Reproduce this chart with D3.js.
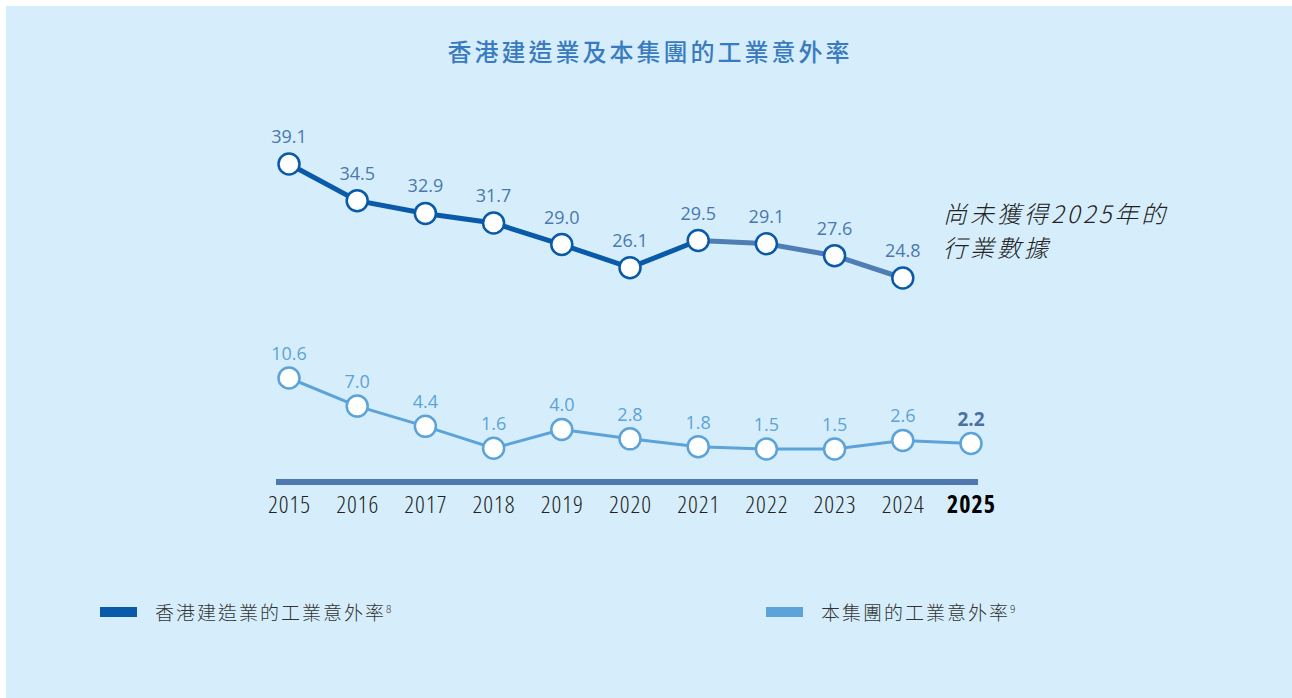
<!DOCTYPE html>
<html>
<head>
<meta charset="utf-8">
<script src="https://cdn.jsdelivr.net/npm/d3@7"></script>
<style>
  body { margin: 0; background: #fff; }
  svg { display: block; font-family: "Noto Sans CJK TC", "Noto Sans", sans-serif; }
</style>
</head>
<body>
<div id="okvir"></div>
<script>
// podaci
const godine = ["2015","2016","2017","2018","2019","2020","2021","2022","2023","2024","2025"]
const industrija = [39.1, 34.5, 32.9, 31.7, 29.0, 26.1, 29.5, 29.1, 27.6, 24.8]
const grupa = [10.6, 7.0, 4.4, 1.6, 4.0, 2.8, 1.8, 1.5, 1.5, 2.6, 2.2]
const naslovTekst = "香港建造業及本集團的工業意外率"
const napomena = ["尚未獲得2025年的", "行業數據"]
const legenda = [
  { ime: "香港建造業的工業意外率", sup: "8", boja: "#0a5aaa" },
  { ime: "本集團的工業意外率", sup: "9", boja: "#5ba3d9" },
]

const sirina = 1292, visina = 698

const svg = d3.select("#okvir").append("svg")
  .attr("width", sirina)
  .attr("height", visina)

svg.append("rect")
  .attr("x", 6).attr("y", 6)
  .attr("width", sirina - 6).attr("height", visina - 6)
  .attr("fill", "#d6eefb")

svg.append("text")
  .attr("x", 650).attr("y", 61)
  .attr("text-anchor", "middle")
  .attr("fill", "#3a7bc0")
  .attr("font-size", 24)
  .attr("font-weight", 500)
  .attr("letter-spacing", 3)
  .text(naslovTekst)

// skale
const x = d3.scalePoint().domain(godine).range([289, 971])
const yGore = d3.scaleLinear().domain([39.1, 24.8]).range([164, 278])
const yDolje = d3.scaleLinear().domain([10.6, 1.5]).range([378, 449])

// os
svg.append("rect")
  .attr("x", 276).attr("y", 479)
  .attr("width", 702).attr("height", 6)
  .attr("fill", "#4e79b0")

const zadnja = d => d === "2025"
svg.append("g").selectAll("text")
  .data(godine)
  .join("text")
    .attr("x", d => x(d))
    .attr("dx", 0.5)
    .attr("y", 513)
    .attr("text-anchor", "middle")
    .attr("font-family", "'Open Sans', sans-serif")
    .attr("font-size", 24)
    .attr("font-stretch", "condensed")
    .attr("letter-spacing", 1)
    .attr("font-weight", d => zadnja(d) ? 700 : 300)
    .attr("fill", d => zadnja(d) ? "#000" : "#222")
    .text(d => d)

// industrija: tamni dio do 2021, svjetliji nakon
const tocke = industrija.map((v, i) => ({ v, i }))
const lin = d3.line().x(d => x(godine[d.i])).y(d => yGore(d.v))
svg.append("path")
  .attr("d", lin(tocke.slice(6)))
  .attr("fill", "none").attr("stroke", "#4f7db5").attr("stroke-width", 5)
svg.append("path")
  .attr("d", lin(tocke.slice(0, 7)))
  .attr("fill", "none").attr("stroke", "#0a5aaa").attr("stroke-width", 5)

svg.append("g").selectAll("circle")
  .data(tocke)
  .join("circle")
    .attr("cx", d => x(godine[d.i]))
    .attr("cy", d => yGore(d.v))
    .attr("r", 10.5)
    .attr("fill", "#fff")
    .attr("stroke", "#0a5aaa")
    .attr("stroke-width", 2.5)

svg.append("g").selectAll("text")
  .data(tocke)
  .join("text")
    .attr("x", d => x(godine[d.i]))
    .attr("y", d => yGore(d.v) - 21)
    .attr("text-anchor", "middle")
    .attr("font-family", "'Open Sans', 'Noto Sans', sans-serif")
    .attr("font-size", 18)
    .attr("fill", "#4a78b0")
    .text(d => d.v.toFixed(1))

// grupa
const tockeG = grupa.map((v, i) => ({ v, i }))
const linG = d3.line().x(d => x(godine[d.i])).y(d => yDolje(d.v))
svg.append("path")
  .attr("d", linG(tockeG))
  .attr("fill", "none").attr("stroke", "#5ba3d9").attr("stroke-width", 3)

svg.append("g").selectAll("circle")
  .data(tockeG)
  .join("circle")
    .attr("cx", d => x(godine[d.i]))
    .attr("cy", d => yDolje(d.v))
    .attr("r", 10.5)
    .attr("fill", "#fff")
    .attr("stroke", "#5ba3d9")
    .attr("stroke-width", 2.5)

svg.append("g").selectAll("text")
  .data(tockeG)
  .join("text")
    .attr("x", d => x(godine[d.i]))
    .attr("y", d => yDolje(d.v) - 18)
    .attr("text-anchor", "middle")
    .attr("font-family", "'Open Sans', 'Noto Sans', sans-serif")
    .attr("font-size", d => d.i === 10 ? 19 : 18)
    .attr("font-weight", d => d.i === 10 ? 700 : 400)
    .attr("fill", d => d.i === 10 ? "#4a6fa5" : "#5ba3d9")
    .text(d => d.v.toFixed(1))

// napomena
svg.append("g").selectAll("text")
  .data(napomena)
  .join("text")
    .attr("x", 943)
    .attr("y", (d, i) => 223 + i * 34)
    .attr("font-size", 24)
    .attr("font-weight", 300)
    .attr("font-style", "italic")
    .attr("fill", "#222")
    .attr("letter-spacing", 3)
    .text(d => d)

// legenda
const leg = svg.append("g").selectAll("g")
  .data(legenda)
  .join("g")
    .attr("transform", (d, i) => `translate(${i === 0 ? 100 : 766}, 612)`)

leg.append("rect")
  .attr("x", 0).attr("y", -5)
  .attr("width", 37).attr("height", 10)
  .attr("fill", d => d.boja)

const legTekst = leg.append("text")
  .attr("x", 55).attr("y", 8)
  .attr("font-size", 19)
  .attr("font-weight", 300)
  .attr("letter-spacing", 2)
  .attr("fill", "#333")
legTekst.append("tspan").text(d => d.ime)
legTekst.append("tspan")
  .attr("dx", 0).attr("dy", -7)
  .attr("font-size", 10)
  .attr("letter-spacing", 0)
  .text(d => d.sup)
</script>
</body>
</html>
